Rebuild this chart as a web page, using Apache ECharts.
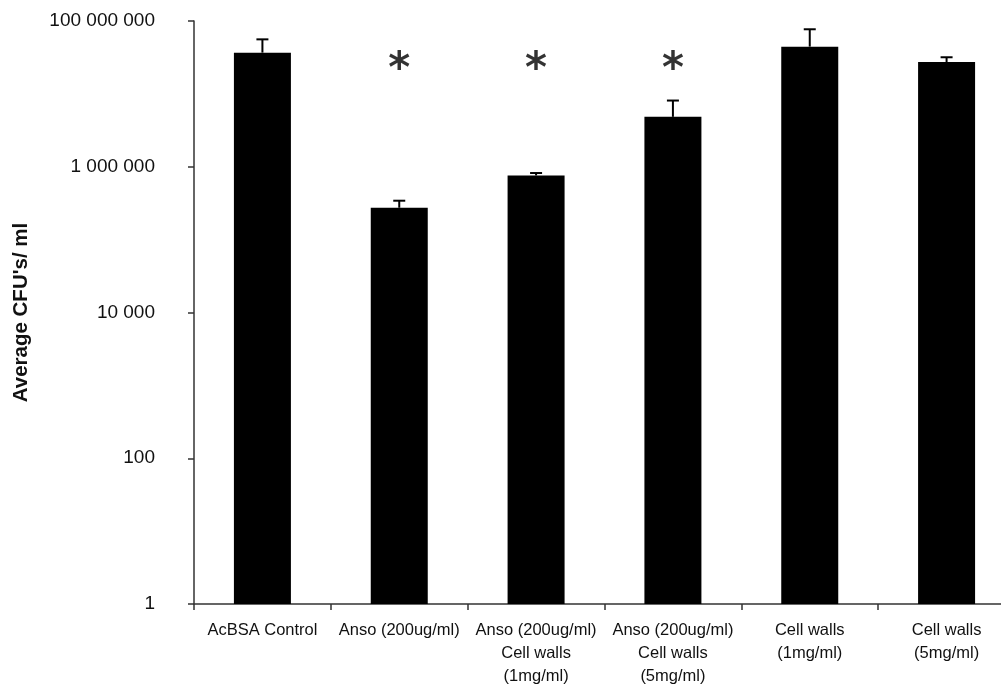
<!DOCTYPE html>
<html><head><meta charset="utf-8">
<script src="https://cdn.jsdelivr.net/npm/echarts@6/dist/echarts.min.js"></script>
<style>html,body{margin:0;padding:0;background:#fff}#c{width:1001px;height:685px}</style>
</head><body><div id="c"></div>
<script>
const categories = ['AcBSA Control', 'Anso (200ug/ml)', 'Anso (200ug/ml)\nCell walls\n(1mg/ml)', 'Anso (200ug/ml)\nCell walls\n(5mg/ml)', 'Cell walls\n(1mg/ml)', 'Cell walls\n(5mg/ml)'];
const means = [36800000, 274000, 760000, 4840000, 44500000, 27400000];
const errTops = [56000000, 342000, 820000, 8100000, 77000000, 31800000];
const starIdx = [1, 2, 3];
const starValue = 27000000;
const yTicks = [1, 100, 10000, 1000000, 100000000];

function fmt(v){ return String(Math.round(v)).replace(/\B(?=(\d{3})+(?!\d))/g, ' '); }

const chart = echarts.init(document.getElementById('c'), null, {renderer:'canvas'});
chart.setOption({
  animation:false,
  backgroundColor:'#fff',
  grid:{left:194, top:21, bottom:81, right:-14, containLabel:false, outerBoundsMode:'none'},
  xAxis:{type:'category', data:categories,
    axisLine:{lineStyle:{color:'#333', width:1.5}},
    axisTick:{show:true, length:6, alignWithLabel:false, lineStyle:{color:'#333', width:1.5}},
    axisLabel:{interval:0, color:'#111', fontFamily:'Liberation Sans, Arial', fontSize:16.5, lineHeight:23, margin:15, align:'center'}
  },
  yAxis:{type:'log', logBase:100, min:yTicks[0], max:yTicks[yTicks.length-1],
    axisLine:{show:true, lineStyle:{color:'#333', width:1.5}},
    axisTick:{show:true, length:6, lineStyle:{color:'#333', width:1.5}},
    splitLine:{show:false},
    axisLabel:{color:'#111', fontFamily:'Liberation Sans, Arial', fontSize:19, margin:39, formatter:fmt},
    name:"Average CFU's/ ml", nameLocation:'middle', nameGap:162, nameRotate:90,
    nameTextStyle:{fontFamily:'Liberation Sans, Arial', fontWeight:'bold', fontSize:20.5, color:'#111'}
  },
  series:[
    {type:'bar', data:means, barWidth:57, itemStyle:{color:'#000'}},
    {type:'custom', data:means.map((m,i)=>[i,m,errTops[i]]),
     renderItem:function(params, api){
       const p0 = api.coord([api.value(0), api.value(1)]);
       const p1 = api.coord([api.value(0), api.value(2)]);
       const hw = 6;
       return {type:'group', children:[
         {type:'line', shape:{x1:p0[0], y1:p0[1], x2:p1[0], y2:p1[1]}, style:{stroke:'#000', lineWidth:2}},
         {type:'line', shape:{x1:p1[0]-hw, y1:p1[1], x2:p1[0]+hw, y2:p1[1]}, style:{stroke:'#000', lineWidth:2}}
       ]};
     }, z:3},
    {type:'scatter', data:starIdx.map(i=>[i, starValue]), symbolSize:0,
     label:{show:true, position:'inside', formatter:'*', fontFamily:'DejaVu Sans', fontWeight:'bold', fontSize:42, color:'#000', offset:[0,9]}}
  ]
});
</script></body></html>
